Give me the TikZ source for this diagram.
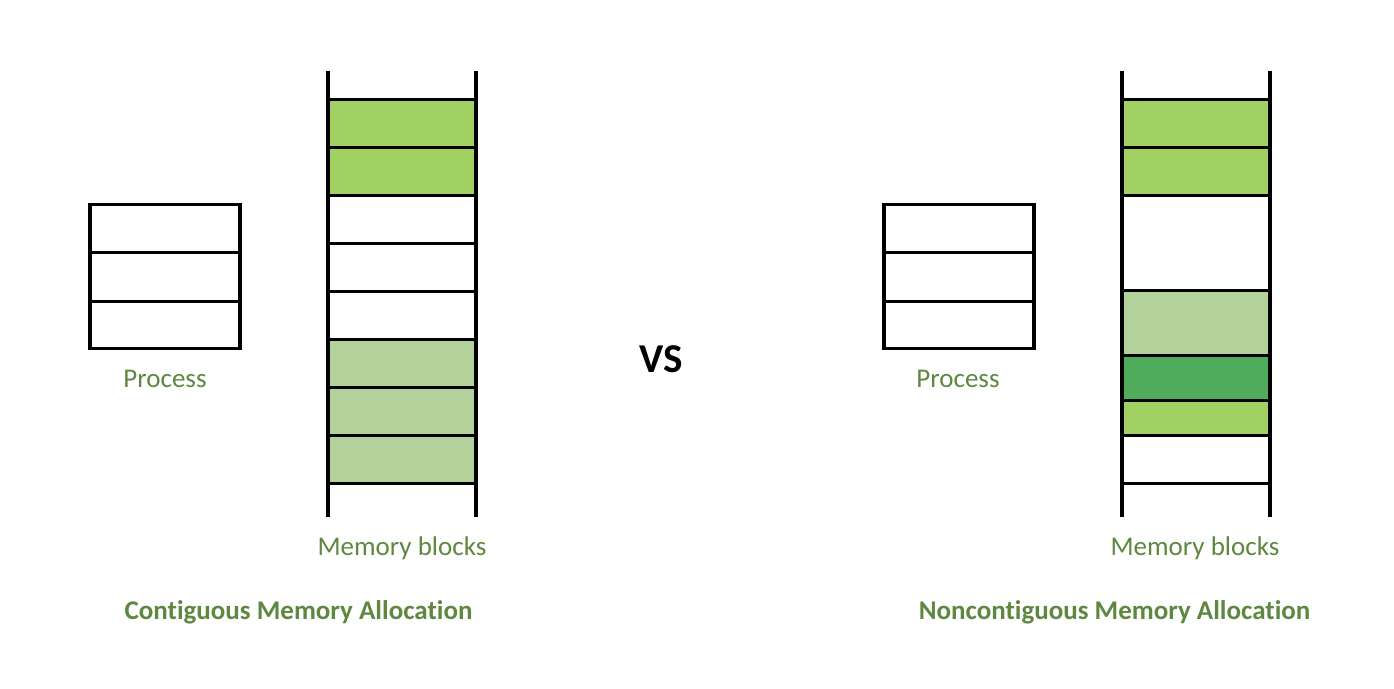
\documentclass[tikz,border=0pt]{standalone}
\usepackage{fontspec}
\setmainfont[Ligatures=NoCommon]{Carlito}
\definecolor{txtgreen}{RGB}{94,135,64}
\definecolor{brightgreen}{RGB}{161,208,99}
\definecolor{lightgreen}{RGB}{179,209,154}
\definecolor{darkgreen}{RGB}{78,172,91}
\tikzset{
  lbl/.style={text=txtgreen, font=\fontsize{27}{30}\selectfont, anchor=base, inner sep=0pt},
  ttl/.style={text=txtgreen, font=\fontsize{27}{30}\selectfont\bfseries, anchor=base, inner sep=0pt},
  rail/.style={line width=4pt, black},
  sep/.style={line width=3pt, black},
  pbox/.style={line width=3.5pt, black}
}
\begin{document}
\begin{tikzpicture}[x=1pt,y=-1pt]
\useasboundingbox (0,0) rectangle (1394,688);
% ---------- Left: contiguous ----------
\fill[brightgreen] (328,99) rectangle (476,195);
\fill[lightgreen] (328,339) rectangle (476,483);
\foreach \yy in {99,147,195,243,291,339,387,435,483}
  \draw[sep] (328,\yy) -- (476,\yy);
\draw[rail] (328,71) -- (328,517);
\draw[rail] (476,71) -- (476,517);
% process box
\draw[sep] (90,252.5) -- (240,252.5);
\draw[sep] (90,301) -- (240,301);
\draw[pbox] (90,204.5) rectangle (240,348.5);
\node[lbl] (procL) at (165,387) {Process};
\node[lbl] (memL) at (402,555) {Memory blocks};
\node[ttl] (titleL) at (298.5,619) {Contiguous Memory Allocation};
% ---------- VS ----------
\node[anchor=base, inner sep=0pt, font=\fontsize{41}{44}\selectfont\bfseries] (vs) at (661,372) {VS};
% ---------- Right: noncontiguous ----------
\fill[brightgreen] (1122,99) rectangle (1270,195);
\fill[lightgreen] (1122,290) rectangle (1270,355);
\fill[darkgreen] (1122,355) rectangle (1270,400);
\fill[brightgreen] (1122,400) rectangle (1270,435);
\foreach \yy in {99,147,195,290,355,400,435,483}
  \draw[sep] (1122,\yy) -- (1270,\yy);
\draw[rail] (1122,71) -- (1122,517);
\draw[rail] (1270,71) -- (1270,517);
% process box
\draw[sep] (884,252.5) -- (1034,252.5);
\draw[sep] (884,301) -- (1034,301);
\draw[pbox] (884,204.5) rectangle (1034,348.5);
\node[lbl] (procR) at (958,387) {Process};
\node[lbl] (memR) at (1195,555) {Memory blocks};
\node[ttl] (titleR) at (1114.5,619) {Noncontiguous Memory Allocation};
\end{tikzpicture}
\end{document}
